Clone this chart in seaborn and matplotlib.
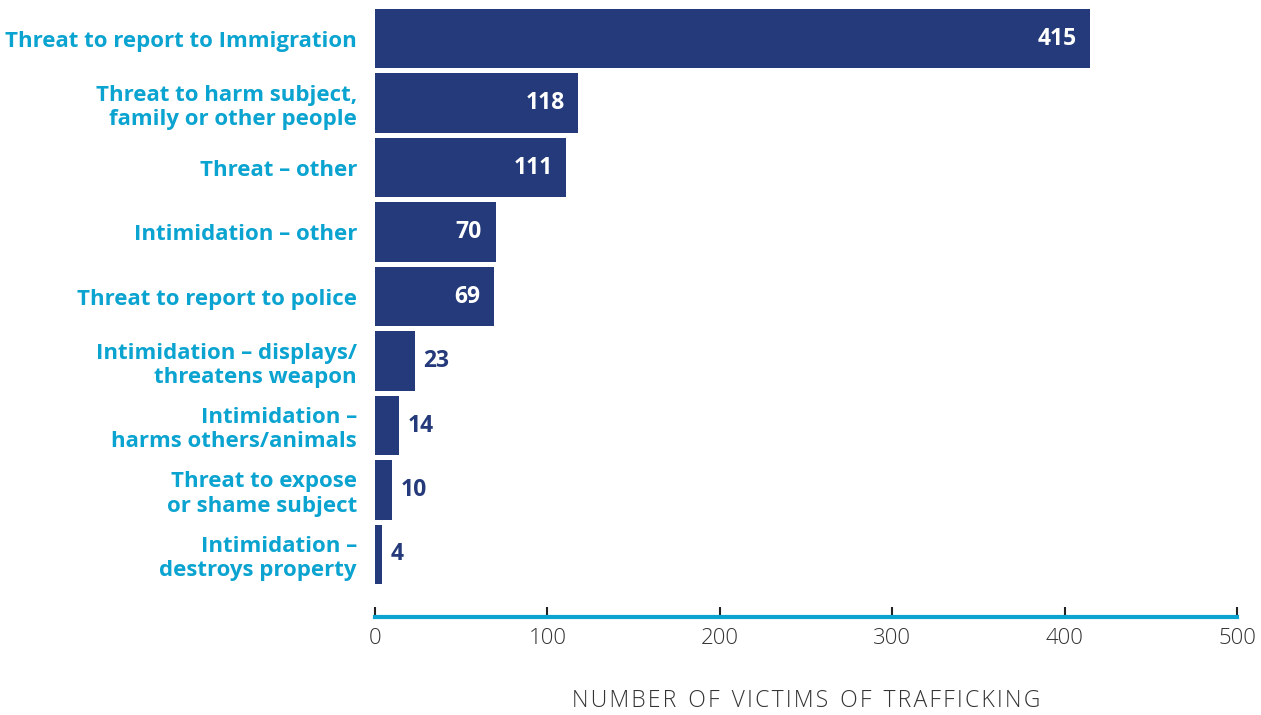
import matplotlib
matplotlib.use("Agg")
import matplotlib.pyplot as plt
import seaborn as sns
import pandas as pd

categories = [
    "Threat to report to Immigration",
    "Threat to harm subject,\nfamily or other people",
    "Threat – other",
    "Intimidation – other",
    "Threat to report to police",
    "Intimidation – displays/\nthreatens weapon",
    "Intimidation –\nharms others/animals",
    "Threat to expose\nor shame subject",
    "Intimidation –\ndestroys property",
]
values = [415, 118, 111, 70, 69, 23, 14, 10, 4]
xticks = [0, 100, 200, 300, 400, 500]

BAR = "#253a7a"
CYAN = "#0ba3d0"

sns.set_theme(style="white")
plt.rcParams["font.family"] = ["Open Sans", "DejaVu Sans"]

df = pd.DataFrame({"cat": categories, "val": values})

fig = plt.figure(figsize=(12.61, 7.15), dpi=100)
ax = fig.add_axes([375/1261, 1-617/715, (1237-375)/1261, (617-9)/715])
sns.barplot(data=df, x="val", y="cat", orient="h", color=BAR, width=0.92,
            saturation=1, linewidth=0, ax=ax)
ax.set_xlim(0, 500)
ax.set_ylim(len(values) - 1 + 0.97, -0.46)

for i, v in enumerate(values):
    if v >= 60:
        ax.text(v - 8, i, str(v), color="white", ha="right", va="center",
                fontsize=16.5, fontweight="bold")
    else:
        ax.text(v + 5, i, str(v), color=BAR, ha="left", va="center",
                fontsize=16.5, fontweight="bold")

ax.set_yticks(range(len(categories)))
ax.set_yticklabels(categories, color=CYAN, fontsize=16, fontweight="bold",
                   linespacing=1.2)
ax.tick_params(axis="y", length=0, pad=13)

ax.set_xticks(xticks)
ax.set_xticklabels([str(t) for t in xticks], color="#333333", fontsize=16,
                   fontweight="light")
ax.tick_params(axis="x", direction="in", length=7, width=1.5, color="#222222",
               pad=8, bottom=True)
ax.set_xlabel("N U M B E R   O F   V I C T I M S   O F   T R A F F I C K I N G".replace("   ", "\u2002").replace(" ", "\u200a").replace("\u2002", "  "),
              color="#333333", fontsize=16.5, fontweight="light", labelpad=29)
ax.set_ylabel("")

for s in ["top", "right", "left"]:
    ax.spines[s].set_visible(False)
ax.spines["bottom"].set_color(CYAN)
ax.spines["bottom"].set_linewidth(3)

fig.savefig("out.png", dpi=100)
